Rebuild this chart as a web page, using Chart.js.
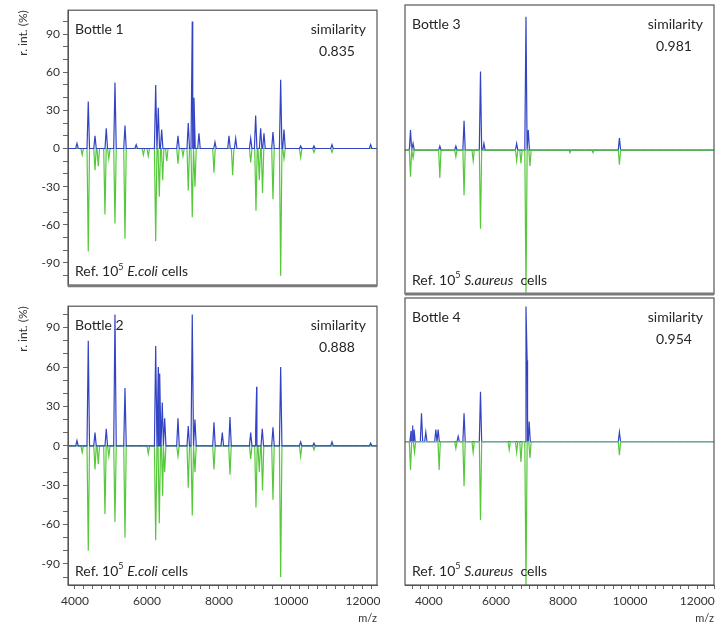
<!DOCTYPE html>
<html>
<head>
<meta charset="utf-8">
<script src="https://cdn.jsdelivr.net/npm/chart.js@4.4.1/dist/chart.umd.min.js"></script>
<style>
  html, body { margin: 0; padding: 0; background: #ffffff; }
  #wrap { position: relative; width: 724px; height: 632px; overflow: hidden; background: #fff; }
  canvas { position: absolute; }
</style>
</head>
<body>
<div id="wrap">
  <canvas id="c1" width="400" height="296" style="left:0;top:0"></canvas>
  <canvas id="c2" width="400" height="336" style="left:0;top:296px"></canvas>
  <canvas id="c3" width="344" height="296" style="left:380px;top:0"></canvas>
  <canvas id="c4" width="344" height="336" style="left:380px;top:296px"></canvas>
</div>
<script>
// ---------- tick labels ----------
const xTickLabels = [4000, 6000, 8000, 10000, 12000];
const yTickLabels = [-90, -60, -30, 0, 30, 60, 90];

// ---------- axis ranges (m/z) ----------
const ecoliRange = [3806, 12390];
const saureusRange = [3290, 12500];

// ---------- Bottle 1 vs Ref E.coli ----------
const b1SampleMz  = [4055, 4369, 4556, 4869, 5111, 5389, 5700, 6242, 6314, 6408, 6861, 7147, 7258, 7306, 7444, 7889, 8278, 8464, 8881, 9019, 9158, 9250, 9500, 9714, 9806, 10269, 10639, 11139, 12214];
const b1SampleInt = [4, 37, 10, 16, 52, 18, 3, 50, 32, 15, 10, 20, 100, 40, 12, 5, 10, 8, 8, 26, 16, 12, 13, 54, 15, 2, 2, 3, 3];
const b1RefMz  = [4200, 4369, 4556, 4647, 4833, 4940, 5111, 5389, 5900, 6036, 6242, 6342, 6436, 6550, 6861, 7000, 7147, 7258, 7333, 7861, 8380, 8881, 9028, 9120, 9210, 9500, 9714, 9806, 10269, 10639, 11139];
const b1RefInt = [-5, -81, -17, -14, -52, -8, -59, -71, -5, -6, -73, -38, -25, -10, -12, -6, -33, -54, -30, -19, -21, -11, -49, -25, -35, -40, -100, -8, -7, -3, -3];

// ---------- Bottle 2 vs Ref E.coli ----------
const b2SampleMz  = [4055, 4369, 4556, 4869, 5111, 5389, 6242, 6314, 6353, 6425, 6492, 6861, 7147, 7258, 7333, 7861, 8092, 8306, 8881, 9019, 9047, 9203, 9500, 9714, 10269, 10639, 11139, 12214];
const b2SampleInt = [4, 80, 10, 13, 100, 44, 76, 60, 55, 33, 21, 21, 15, 100, 20, 18, 10, 22, 10, 12, 45, 13, 14, 60, 3, 2, 3, 2];
const b2RefMz  = [4200, 4369, 4556, 4647, 4833, 4940, 5111, 5389, 6036, 6242, 6342, 6436, 6492, 6861, 7147, 7258, 7333, 7861, 8306, 8881, 9028, 9120, 9210, 9500, 9714, 10269, 10639];
const b2RefInt = [-5, -80, -18, -14, -52, -8, -58, -70, -6, -72, -59, -38, -20, -8, -32, -53, -20, -18, -22, -10, -47, -20, -34, -41, -100, -8, -3];

// ---------- Bottle 3 vs Ref S.aureus ----------
const b3SampleMz  = [3454, 3531, 4328, 4806, 5050, 5540, 5642, 6618, 6896, 6964, 9681];
const b3SampleInt = [15, 5, 3, 3, 22, 59, 5, 5, 100, 15, 9];
const b3RefMz  = [3454, 3531, 4328, 4806, 5050, 5322, 5540, 6618, 6746, 6896, 7015, 8209, 8896, 9681];
const b3RefInt = [-20, -6, -21, -5, -34, -8, -59, -8, -10, -107, -12, -2, -2, -11];

// ---------- Bottle 4 vs Ref S.aureus ----------
const b4SampleMz  = [3470, 3513, 3560, 3782, 3910, 4209, 4278, 4875, 5050, 5540, 6896, 6930, 6990, 9681];
const b4SampleInt = [8, 12, 9, 21, 7, 9, 9, 4, 21, 37, 100, 60, 15, 7];
const b4RefMz  = [3454, 3573, 4308, 4806, 5050, 5322, 5540, 6397, 6618, 6746, 6896, 7015, 9681];
const b4RefInt = [-21, -8, -21, -5, -33, -8, -58, -6, -8, -15, -107, -12, -10];

// ---------- helpers ----------
const FONT = 'Lato, "Open Sans", "DejaVu Sans", sans-serif';
const BLUE = '#3243c4';
const GREEN = '#56c83c';

function spectrum(mz, inten, range) {
  const hw = 35;
  const pts = [{x: range[0], y: 0}, {x: range[1], y: 0}];
  mz.forEach((m, i) => {
    pts.push({x: m - hw, y: 0}, {x: m, y: inten[i]}, {x: m + hw, y: 0});
  });
  return pts.sort((a, b) => a.x - b.x);
}

const panelPlugin = {
  id: 'panelDeco',
  beforeDatasetsDraw(chart) {
    const {ctx, chartArea: a, scales} = chart;
    const y0 = scales.y.getPixelForValue(0);
    ctx.save();
    ctx.strokeStyle = '#9cc3ee';
    ctx.lineWidth = 1;
    ctx.setLineDash([4, 3]);
    ctx.beginPath();
    ctx.moveTo(a.left, y0);
    ctx.lineTo(a.right, y0);
    ctx.stroke();
    ctx.restore();
  },
  afterDraw(chart, args, o) {
    const {ctx, chartArea: a} = chart;
    ctx.save();
    // frame
    ctx.strokeStyle = '#555';
    ctx.lineWidth = 1.2;
    ctx.strokeRect(a.left, a.top, a.right - a.left, a.bottom - a.top);
    if (o.thickBottom) {
      ctx.strokeStyle = '#7a7a7a';
      ctx.lineWidth = 3;
      ctx.beginPath();
      ctx.moveTo(a.left, a.bottom);
      ctx.lineTo(a.right, a.bottom);
      ctx.stroke();
    }
    // texts
    ctx.fillStyle = '#262626';
    ctx.textBaseline = 'middle';
    ctx.font = '14px ' + FONT;
    ctx.textAlign = 'left';
    ctx.fillText(o.title, a.left + 7, a.top + 19);
    ctx.textAlign = 'right';
    ctx.fillText('similarity', a.right - 11, a.top + 19);
    ctx.textAlign = 'center';
    ctx.fillText(o.sim, a.right - 40, a.top + 41);
    // reference label
    ctx.textAlign = 'left';
    let x = a.left + 7;
    const y = a.bottom - 14;
    const parts = [
      ['Ref. 10', '14px ' + FONT, 0],
      ['5', '9px ' + FONT, -5],
      [' ', '14px ' + FONT, 0],
      [o.species, 'italic 14px ' + FONT, 0],
      [o.gap + 'cells', '14px ' + FONT, 0]
    ];
    parts.forEach(([t, f, dy]) => {
      ctx.font = f;
      ctx.fillText(t, x, y + dy);
      x += ctx.measureText(t).width;
    });
    ctx.restore();
  }
};

function makePanel(id, c) {
  const xMinor = [];
  for (let v = Math.ceil(c.range[0] / 250) * 250; v <= c.range[1]; v += 250) xMinor.push(v);
  const yMinor = [];
  for (let v = -100; v <= 100; v += 10) yMinor.push(v);

  const blue = {
    data: spectrum(c.sampleMz, c.sampleInt, c.range),
    borderColor: BLUE, borderWidth: 1.2, pointRadius: 0, showLine: true, tension: 0,
    order: c.blueOnTop ? 0 : 1
  };
  const green = {
    data: spectrum(c.refMz, c.refInt, c.range),
    borderColor: GREEN, borderWidth: 1.2, pointRadius: 0, showLine: true, tension: 0,
    order: c.blueOnTop ? 1 : 0
  };

  new Chart(document.getElementById(id), {
    type: 'scatter',
    data: { datasets: [green, blue] },
    options: {
      responsive: false,
      animation: false,
      devicePixelRatio: 1,
      layout: { autoPadding: false, padding: c.padding },
      plugins: {
        legend: { display: false },
        tooltip: { enabled: false },
        panelDeco: { title: c.title, sim: c.sim, species: c.species, gap: c.gap, thickBottom: c.thickBottom }
      },
      scales: {
        x: {
          type: 'linear',
          min: c.range[0], max: c.range[1],
          display: c.showX,
          afterBuildTicks: s => { s.ticks = xMinor.map(v => ({value: v})); },
          afterFit: s => { s.height = c.showX ? 47 : 0; },
          ticks: {
            autoSkip: false, maxRotation: 0, padding: 5,
            color: '#333', font: { family: FONT, size: 12 },
            callback: v => xTickLabels.includes(v) ? String(v) : ''
          },
          grid: { drawOnChartArea: false, drawTicks: true, tickLength: 4, tickColor: '#666' },
          border: { display: true, color: '#555', width: 1 },
          title: {
            display: true, text: 'm/z', align: 'end', color: '#333',
            font: { family: FONT, size: 11 }, padding: { top: 0, bottom: 7 }
          }
        },
        y: {
          type: 'linear',
          min: c.yMin, max: c.yMax,
          display: c.showY,
          afterBuildTicks: s => { s.ticks = yMinor.map(v => ({value: v})); },
          afterFit: s => { s.width = c.showY ? 68 : 0; },
          ticks: {
            autoSkip: false, padding: 3,
            color: '#333', font: { family: FONT, size: 12 },
            callback: v => yTickLabels.includes(v) ? String(v) : ''
          },
          grid: { drawOnChartArea: false, drawTicks: true, tickLength: 5, tickColor: '#666' },
          border: { display: true, color: '#555', width: 1 },
          title: {
            display: true, text: 'r. int. (%)', align: 'end', color: '#333',
            font: { family: FONT, size: 12 }, padding: { top: 16, bottom: 0 }
          }
        }
      }
    },
    plugins: [panelPlugin]
  });
}

makePanel('c1', {
  sampleMz: b1SampleMz, sampleInt: b1SampleInt, refMz: b1RefMz, refInt: b1RefInt,
  range: ecoliRange, yMin: -108, yMax: 108.8, showX: false, showY: true,
  padding: {left: 0, top: 5, right: 23, bottom: 2},
  title: 'Bottle 1', sim: '0.835', species: 'E.coli', gap: ' ', thickBottom: true, blueOnTop: true
});
makePanel('c2', {
  sampleMz: b2SampleMz, sampleInt: b2SampleInt, refMz: b2RefMz, refInt: b2RefInt,
  range: ecoliRange, yMin: -106, yMax: 106.3, showX: true, showY: true,
  padding: {left: 0, top: 2, right: 23, bottom: 0},
  title: 'Bottle 2', sim: '0.888', species: 'E.coli', gap: ' ', thickBottom: false, blueOnTop: true
});
makePanel('c3', {
  sampleMz: b3SampleMz, sampleInt: b3SampleInt, refMz: b3RefMz, refInt: b3RefInt,
  range: saureusRange, yMin: -108, yMax: 108.8, showX: false, showY: false,
  padding: {left: 25, top: 5, right: 10, bottom: 2},
  title: 'Bottle 3', sim: '0.981', species: 'S.aureus', gap: '  ', thickBottom: true, blueOnTop: false
});
makePanel('c4', {
  sampleMz: b4SampleMz, sampleInt: b4SampleInt, refMz: b4RefMz, refInt: b4RefInt,
  range: saureusRange, yMin: -106, yMax: 106.3, showX: true, showY: false,
  padding: {left: 25, top: 2, right: 10, bottom: 0},
  title: 'Bottle 4', sim: '0.954', species: 'S.aureus', gap: '  ', thickBottom: false, blueOnTop: false
});
</script>
</body>
</html>
